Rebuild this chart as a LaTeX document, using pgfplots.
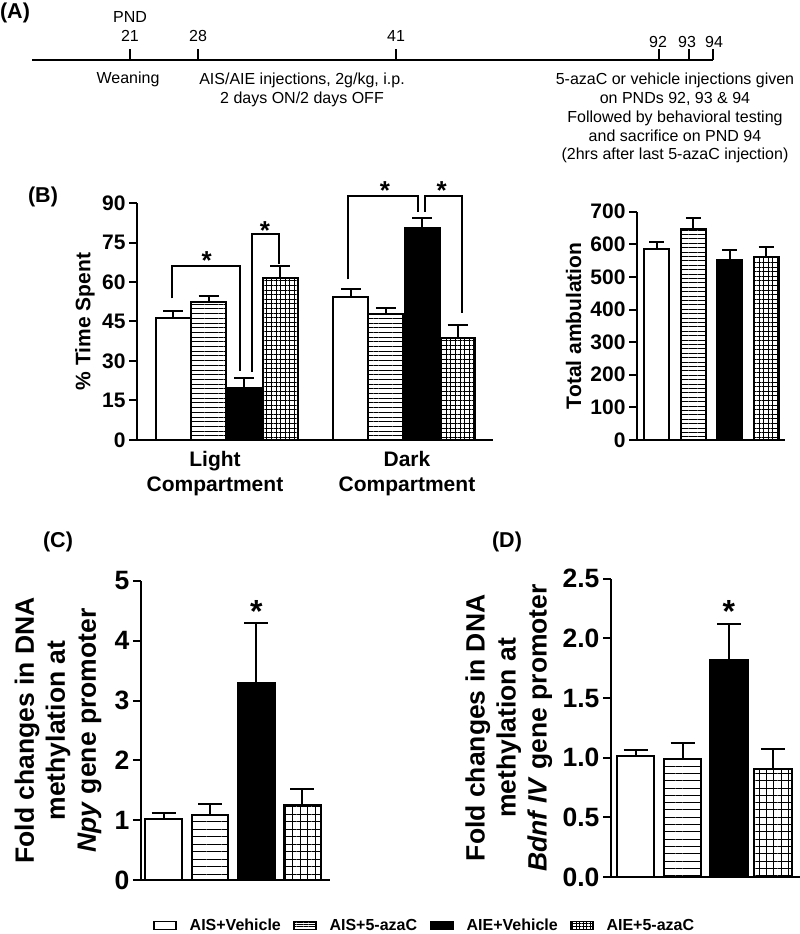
\documentclass[border=0pt]{standalone}
\usepackage{fontspec}
\setmainfont{Liberation Sans}
\usepackage{pgfplots}
\pgfplotsset{compat=1.18}
\usetikzlibrary{patterns.meta}

\newcommand{\fs}[2]{\fontsize{#1}{#2}\selectfont}

\pgfplotsset{
  panel/.style={
    scale only axis, anchor=south west, axis lines=left,
    axis line style={-, line width=2pt},
    tick style={line width=2pt, black},
    tick align=outside, major tick length=8pt,
    xtick=\empty, clip=false,
    /pgf/number format/assume math mode=true,
    ylabel style={anchor=center, align=center},
  },
  bar/.style={ybar, bar shift=0pt, draw=black, line width=2pt,
    error bars/y dir=plus, error bars/y explicit,
    error bars/error bar style={line width=2pt, black},
    error bars/error mark options={rotate=90, line width=2pt, black, mark size=#1}},
  bracket/.style={black, line width=2pt, no marks, sharp plot},
}

\begin{document}
\begin{tikzpicture}[x=1pt, y=1pt]

% (A) timeline
\begin{axis}[at={(0pt,874pt)}, anchor=south west, scale only axis,
  width=800pt, height=100pt, xmin=0, xmax=800, ymin=0, ymax=100,
  hide axis, clip=false]
\addplot[black, line width=1.4pt] coordinates {(32,0) (713,0)};
\addplot[black, line width=2.8pt] coordinates {(198,0) (396,0)};
\addplot[ycomb, black, line width=1.2pt, no marks] coordinates
  {(130,11) (198,11) (396,11) (659,11) (689,11) (713,11)};
\begin{scope}[every node/.style={font=\fs{16}{19}, inner sep=0pt}]
\node at (axis cs:130,43) {PND};
\node at (axis cs:130,24) {21};
\node at (axis cs:198,24) {28};
\node at (axis cs:396,24) {41};
\node at (axis cs:658,18) {92};
\node at (axis cs:687,18) {93};
\node at (axis cs:714,18) {94};
\node[anchor=base] at (axis cs:128,-23.5) {Weaning};
\node[anchor=base] at (axis cs:302,-24.5) {AIS/AIE injections, 2g/kg, i.p.};
\node[anchor=base] at (axis cs:302,-44) {2 days ON/2 days OFF};
\node[anchor=base] at (axis cs:675,-25) {5-azaC or vehicle injections given};
\node[anchor=base] at (axis cs:675,-43.75) {on PNDs 92, 93 \& 94};
\node[anchor=base] at (axis cs:675,-62.5) {Followed by behavioral testing};
\node[anchor=base] at (axis cs:675,-81.25) {and sacrifice on PND 94};
\node[anchor=base] at (axis cs:675,-100) {(2hrs after last 5-azaC injection)};
\end{scope}
\end{axis}

% (B) left: % time spent
\begin{axis}[panel, at={(137pt,494pt)}, width=356pt, height=237pt,
  xmin=137, xmax=493, ymin=0, ymax=90, ytick={0,15,...,90},
  tick label style={font=\fs{21}{25}\bfseries},
  xtick={215,407}, xticklabels={{Light\\Compartment},{Dark\\Compartment}},
  xticklabel style={align=center}, xtick style={draw=none},
  ylabel={\% Time Spent}, ylabel style={font=\fs{21}{25}\bfseries,
    at={(axis description cs:-0.146,0.5)}}]
\addplot[bar=10pt, bar width=35pt, fill=white] coordinates
  {(173.2,46.2) +- (0,2.9) (350.8,54.3) +- (0,3.0)};
\addplot[bar=10pt, bar width=35pt, pattern={Lines[distance=4.7pt, angle=0, line width=0.9pt]}] coordinates
  {(208.7,52.4) +- (0,2.1) (385.8,48.0) +- (0,2.0)};
\addplot[bar=10pt, bar width=35pt, fill=black] coordinates
  {(244.2,19.9) +- (0,3.6) (422.2,80.6) +- (0,3.8)};
\addplot[bar=10pt, bar width=35pt, pattern={Hatch[distance=4.6pt, angle=0, line width=0.8pt]}] coordinates
  {(280,61.6) +- (0,4.6) (457.5,38.7) +- (0,4.8)};
\addplot[bracket] coordinates {(172,53.8) (172,66.1) (240,66.1) (240,26.3)};
\addplot[bracket] coordinates {(252.3,25.9) (252.3,78.1) (279.3,78.1) (279.3,67)};
\addplot[bracket] coordinates {(347.7,61.0) (347.7,92.7) (418.3,92.7) (418.3,86.7)};
\addplot[bracket] coordinates {(425,86.7) (425,92.7) (461.7,92.7) (461.7,48.1)};
\node[font=\fs{26}{30}\bfseries, inner sep=0pt, anchor=north] at (axis cs:206.7,71.5) {*};
\node[font=\fs{26}{30}\bfseries, inner sep=0pt, anchor=north] at (axis cs:265,82.9) {*};
\node[font=\fs{26}{30}\bfseries, inner sep=0pt, anchor=north] at (axis cs:385,98.3) {*};
\node[font=\fs{26}{30}\bfseries, inner sep=0pt, anchor=north] at (axis cs:441.7,98.3) {*};
\end{axis}

% (B) right: total ambulation
\begin{axis}[panel, at={(637pt,494pt)}, width=148pt, height=228.3pt,
  xmin=637, xmax=785, ymin=0, ymax=700, ytick={0,100,...,700},
  tick label style={font=\fs{21}{25}\bfseries},
  ylabel={Total ambulation}, ylabel style={font=\fs{21}{25}\bfseries,
    at={(axis description cs:-0.429,0.5)}}]
\addplot[bar=7.5pt, bar width=25pt, fill=white] coordinates {(656.5,584.6) +- (0,23.4)};
\addplot[bar=7.5pt, bar width=25pt, pattern={Lines[distance=4.4pt, angle=0, line width=0.9pt]}] coordinates {(693.3,646.8) +- (0,34.7)};
\addplot[bar=7.5pt, bar width=25pt, fill=black] coordinates {(729.5,552.8) +- (0,28.7)};
\addplot[bar=7.5pt, bar width=25pt, pattern={Hatch[distance=4.6pt, angle=0, line width=0.8pt]}] coordinates {(766,560) +- (0,32.6)};
\end{axis}

% (C) Npy
\begin{axis}[panel, at={(141pt,54pt)}, width=189pt, height=299pt,
  xmin=141, xmax=330, ymin=0, ymax=5, ytick={0,1,...,5},
  tick label style={font=\fs{26.5}{31}\bfseries},
  ylabel={Fold changes in DNA\\methylation at\\\textit{Npy} gene promoter},
  ylabel style={font=\fs{26.5}{31}\bfseries,
    at={(axis description cs:-0.439,0.5)}},
  legend columns=4,
  legend style={at={(0.0635,-0.152)}, anchor=west, draw=none, fill=none,
    inner sep=0pt, /tikz/column sep=13pt, nodes={inner sep=0pt},
    font=\fs{16}{18}\bfseries}]
\addplot[bar=12pt, bar width=36.5pt, fill=white,
  legend image code/.code={\draw[line width=1.5pt, fill=white] (0pt,-4pt) rectangle (22pt,4pt);}]
  coordinates {(163.7,1.02) +- (0,0.095)};
\addlegendentry{AIS+Vehicle}
\addplot[bar=12pt, bar width=36.5pt, pattern={Lines[distance=7.5pt, angle=0, line width=0.9pt]},
  legend image code/.code={\draw[line width=1.5pt, pattern={Lines[distance=2.4pt, angle=0, line width=0.7pt]}] (0pt,-4pt) rectangle (22pt,4pt);}]
  coordinates {(210,1.087) +- (0,0.18)};
\addlegendentry{AIS+5-azaC\hspace{29pt}}
\addplot[bar=12pt, bar width=36.5pt, fill=black,
  legend image code/.code={\draw[line width=1.5pt, fill=black] (0pt,-4pt) rectangle (22pt,4pt);}]
  coordinates {(256.3,3.29) +- (0,1.0)};
\addlegendentry{AIE+Vehicle\hspace{74pt}}
\addplot[bar=12pt, bar width=36.5pt, pattern={Hatch[distance=7.5pt, angle=0, line width=0.9pt]},
  legend image code/.code={\draw[line width=1.5pt, pattern={Hatch[distance=3.6pt, angle=0, line width=0.7pt]}] (0pt,-4pt) rectangle (22pt,4pt);}]
  coordinates {(302.3,1.25) +- (0,0.27)};
\addlegendentry{AIE+5-azaC}
\node[font=\fs{32}{36}\bfseries, inner sep=0pt, anchor=north] at (axis cs:256.3,4.68) {*};
\end{axis}

% (D) Bdnf IV
\begin{axis}[panel, at={(611pt,57pt)}, width=189pt, height=298.3pt,
  xmin=611, xmax=800, ymin=0, ymax=2.5, ytick={0,0.5,...,2.5},
  yticklabel style={/pgf/number format/.cd, fixed, fixed zerofill, precision=1},
  tick label style={font=\fs{26.5}{31}\bfseries},
  ylabel={Fold changes in DNA\\methylation at\\\textit{Bdnf IV} gene promoter},
  ylabel style={font=\fs{26.5}{31}\bfseries,
    at={(axis description cs:-0.540,0.5)}}]
\addplot[bar=12pt, bar width=37.5pt, fill=white] coordinates {(635.5,1.012) +- (0,0.056)};
\addplot[bar=12pt, bar width=37.5pt, pattern={Lines[distance=7.3pt, angle=0, line width=0.9pt]}] coordinates {(682.7,0.992) +- (0,0.131)};
\addplot[bar=12pt, bar width=37.5pt, fill=black] coordinates {(728.8,1.816) +- (0,0.302)};
\addplot[bar=12pt, bar width=37.5pt, pattern={Hatch[distance=7.3pt, angle=0, line width=0.9pt]}] coordinates {(772.8,0.908) +- (0,0.168)};
\node[font=\fs{32}{36}\bfseries, inner sep=0pt, anchor=north] at (axis cs:728.8,2.32) {*};
\end{axis}

% panel letters
\begin{scope}[every node/.style={font=\fs{21.5}{25}\bfseries, inner sep=0pt}]
\node at (15,921.5) {(A)};
\node at (43,737) {(B)};
\node at (58,392) {(C)};
\node at (507,392) {(D)};
\end{scope}

\pgfresetboundingbox
\path[use as bounding box] (0,0) rectangle (800,934);
\end{tikzpicture}
\end{document}
